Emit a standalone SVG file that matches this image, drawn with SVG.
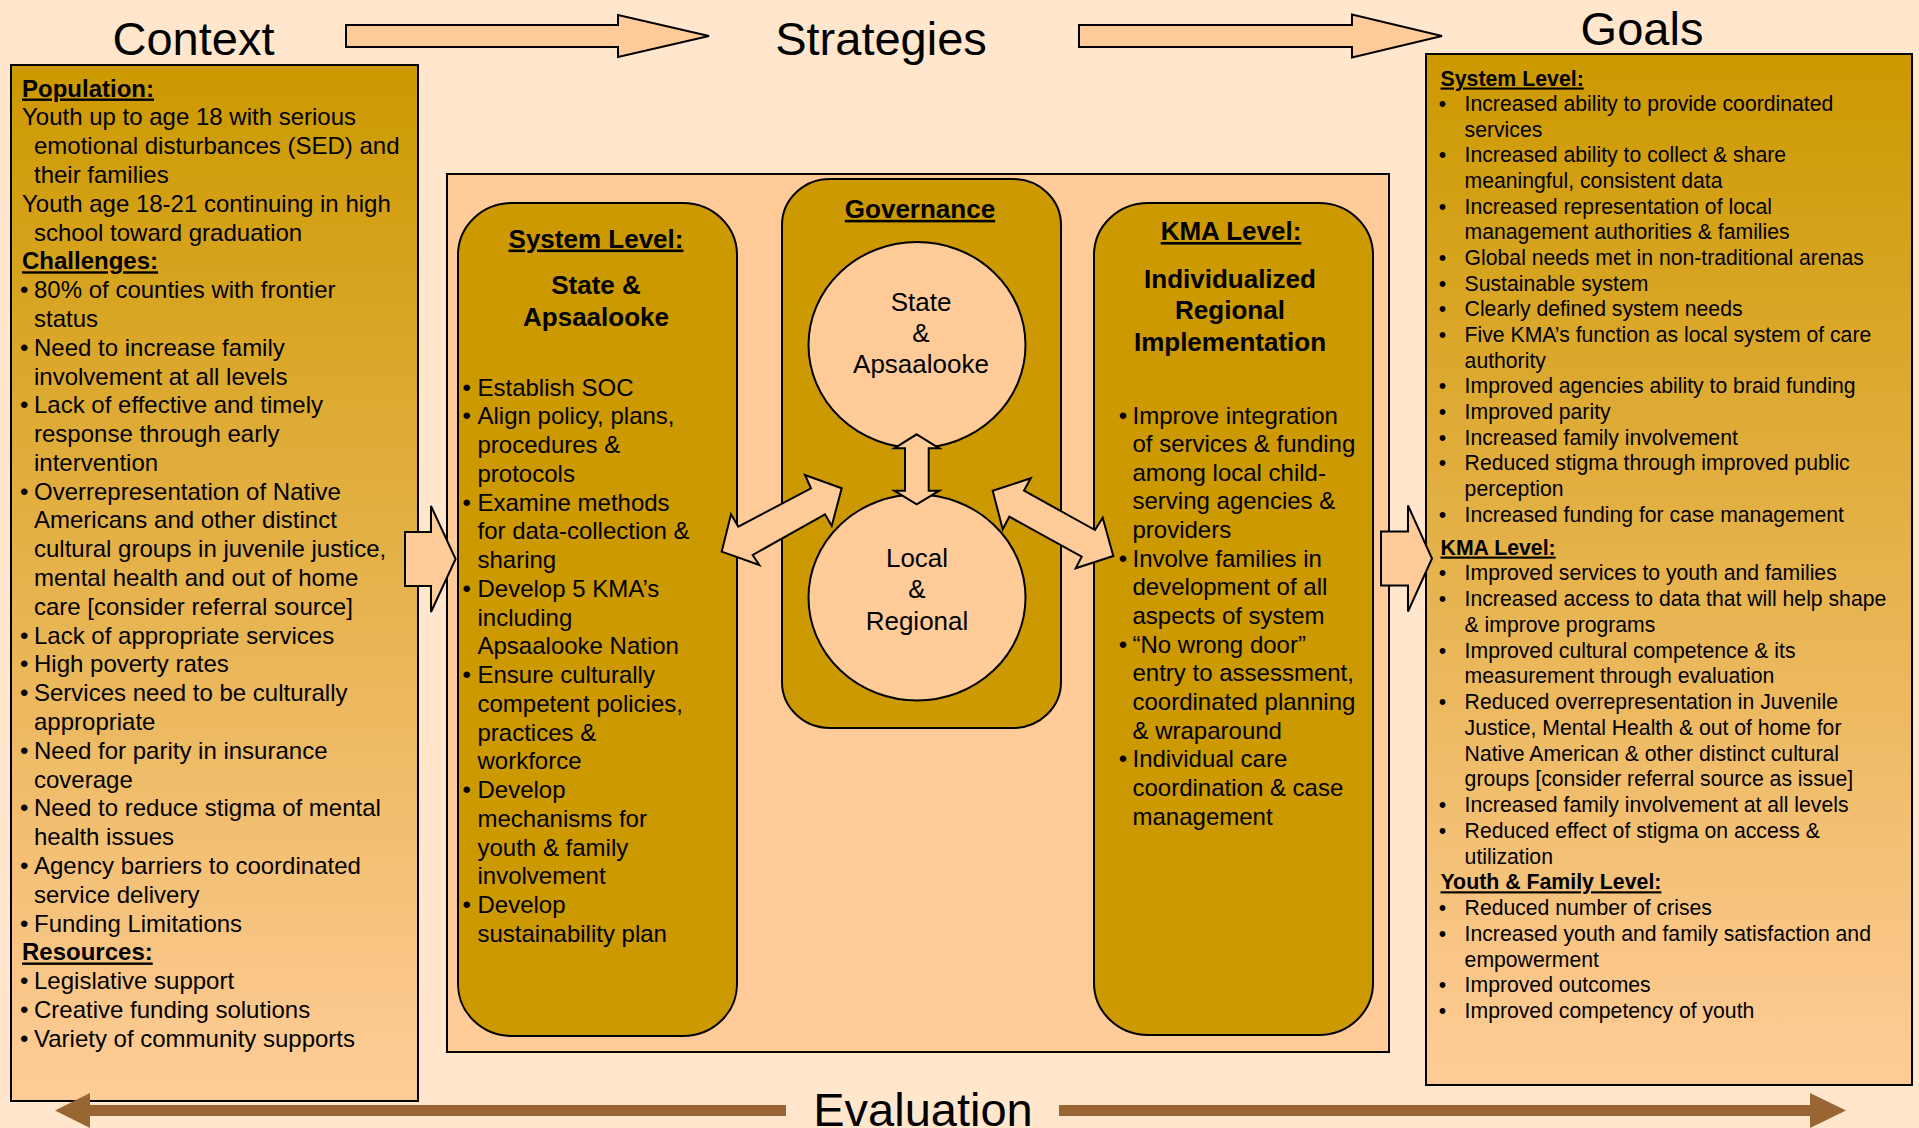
<svg xmlns="http://www.w3.org/2000/svg" width="1919" height="1128" viewBox="0 0 1919 1128">
<defs>
<linearGradient id="goldfade" x1="0" y1="0" x2="0" y2="1">
<stop offset="0" stop-color="#CC9900"/>
<stop offset="1" stop-color="#FFCC99"/>
</linearGradient>
<style>
.t{font-family:"Liberation Sans",Arial,sans-serif;fill:#000}
.title{font-size:47px;text-anchor:middle}
.b{font-size:24px}
.bh{font-size:24px;font-weight:bold;text-decoration:underline}
.h{font-size:26px;font-weight:bold;text-anchor:middle}
.hu{text-decoration:underline}
.c{font-size:26px;text-anchor:middle}
.g{font-size:21.2px}
.gh{font-size:21.3px;font-weight:bold;text-decoration:underline}
.box{stroke:#000;stroke-width:2}
.rbox{fill:#CC9900;stroke:#000;stroke-width:2}
.arrow{fill:#FFCC99;stroke:#000;stroke-width:2;stroke-linejoin:miter}
.eval{fill:#996633;stroke:none}
</style>
</defs>
<rect x="0" y="0" width="1919" height="1128" fill="#FFE6CC"/>

<g id="titles">
<text class="t title" x="193.5" y="55">Context</text>
<text class="t title" x="881" y="55">Strategies</text>
<text class="t title" x="1642" y="44.6">Goals</text>
<text class="t title" x="923" y="1125.5">Evaluation</text>
</g>

<g id="context">
<rect class="box" x="11" y="65" width="407" height="1036" fill="url(#goldfade)"/>
<text class="t b" x="22" y="96.5">
<tspan class="bh" x="22">Population:</tspan>
<tspan x="22" dy="28.8">Youth up to age 18 with serious</tspan>
<tspan x="34" dy="28.8">emotional disturbances (SED) and</tspan>
<tspan x="34" dy="28.8">their families</tspan>
<tspan x="22" dy="28.8">Youth age 18-21 continuing in high</tspan>
<tspan x="34" dy="28.8">school toward graduation</tspan>
<tspan class="bh" x="22" dy="28.8">Challenges:</tspan>
<tspan x="20" dy="28.8">•</tspan><tspan x="34">80% of counties with frontier</tspan>
<tspan x="34" dy="28.8">status</tspan>
<tspan x="20" dy="28.8">•</tspan><tspan x="34">Need to increase family</tspan>
<tspan x="34" dy="28.8">involvement at all levels</tspan>
<tspan x="20" dy="28.8">•</tspan><tspan x="34">Lack of effective and timely</tspan>
<tspan x="34" dy="28.8">response through early</tspan>
<tspan x="34" dy="28.8">intervention</tspan>
<tspan x="20" dy="28.8">•</tspan><tspan x="34">Overrepresentation of Native</tspan>
<tspan x="34" dy="28.8">Americans and other distinct</tspan>
<tspan x="34" dy="28.8">cultural groups in juvenile justice,</tspan>
<tspan x="34" dy="28.8">mental health and out of home</tspan>
<tspan x="34" dy="28.8">care [consider referral source]</tspan>
<tspan x="20" dy="28.8">•</tspan><tspan x="34">Lack of appropriate services</tspan>
<tspan x="20" dy="28.8">•</tspan><tspan x="34">High poverty rates</tspan>
<tspan x="20" dy="28.8">•</tspan><tspan x="34">Services need to be culturally</tspan>
<tspan x="34" dy="28.8">appropriate</tspan>
<tspan x="20" dy="28.8">•</tspan><tspan x="34">Need for parity in insurance</tspan>
<tspan x="34" dy="28.8">coverage</tspan>
<tspan x="20" dy="28.8">•</tspan><tspan x="34">Need to reduce stigma of mental</tspan>
<tspan x="34" dy="28.8">health issues</tspan>
<tspan x="20" dy="28.8">•</tspan><tspan x="34">Agency barriers to coordinated</tspan>
<tspan x="34" dy="28.8">service delivery</tspan>
<tspan x="20" dy="28.8">•</tspan><tspan x="34">Funding Limitations</tspan>
<tspan class="bh" x="22" dy="28.8">Resources:</tspan>
<tspan x="20" dy="28.8">•</tspan><tspan x="34">Legislative support</tspan>
<tspan x="20" dy="28.8">•</tspan><tspan x="34">Creative funding solutions</tspan>
<tspan x="20" dy="28.8">•</tspan><tspan x="34">Variety of community supports</tspan>
</text>
</g>

<g id="strategies">
<rect class="box" x="447" y="174" width="942" height="878" fill="#FFCC99"/>
</g>

<g id="system-level">
<rect class="rbox" x="458" y="203" width="279" height="833" rx="54" ry="52"/>
<text class="t h hu" x="596" y="247.5">System Level:</text>
<text class="t h" x="596" y="294">State &amp;</text>
<text class="t h" x="596" y="326">Apsaalooke</text>
<text class="t b" x="477.5" y="395.5">
<tspan x="462.4">•</tspan><tspan x="477.5">Establish SOC</tspan>
<tspan x="462.4" dy="28.75">•</tspan><tspan x="477.5">Align policy, plans,</tspan>
<tspan x="477.5" dy="28.75">procedures &amp;</tspan>
<tspan x="477.5" dy="28.75">protocols</tspan>
<tspan x="462.4" dy="28.75">•</tspan><tspan x="477.5">Examine methods</tspan>
<tspan x="477.5" dy="28.75">for data-collection &amp;</tspan>
<tspan x="477.5" dy="28.75">sharing</tspan>
<tspan x="462.4" dy="28.75">•</tspan><tspan x="477.5">Develop 5 KMA’s</tspan>
<tspan x="477.5" dy="28.75">including</tspan>
<tspan x="477.5" dy="28.75">Apsaalooke Nation</tspan>
<tspan x="462.4" dy="28.75">•</tspan><tspan x="477.5">Ensure culturally</tspan>
<tspan x="477.5" dy="28.75">competent policies,</tspan>
<tspan x="477.5" dy="28.75">practices &amp;</tspan>
<tspan x="477.5" dy="28.75">workforce</tspan>
<tspan x="462.4" dy="28.75">•</tspan><tspan x="477.5">Develop</tspan>
<tspan x="477.5" dy="28.75">mechanisms for</tspan>
<tspan x="477.5" dy="28.75">youth &amp; family</tspan>
<tspan x="477.5" dy="28.75">involvement</tspan>
<tspan x="462.4" dy="28.75">•</tspan><tspan x="477.5">Develop</tspan>
<tspan x="477.5" dy="28.75">sustainability plan</tspan>
</text>
</g>

<g id="governance">
<rect class="rbox" x="782" y="179" width="279" height="549" rx="48" ry="46"/>
<text class="t h hu" x="920" y="217.8">Governance</text>
</g>

<g id="state-circle">
<ellipse cx="917" cy="345" rx="108.5" ry="103" fill="#FFCC99" stroke="#000" stroke-width="2"/>
<text class="t c" x="921" y="310.5">State</text>
<text class="t c" x="921" y="342">&amp;</text>
<text class="t c" x="921" y="373.2">Apsaalooke</text>
</g>

<g id="local-circle">
<ellipse cx="917" cy="597.5" rx="108.5" ry="103" fill="#FFCC99" stroke="#000" stroke-width="2"/>
<text class="t c" x="917" y="566.5">Local</text>
<text class="t c" x="917" y="598">&amp;</text>
<text class="t c" x="917" y="630">Regional</text>
</g>

<g id="kma-level">
<rect class="rbox" x="1094" y="203" width="279" height="832" rx="54" ry="52"/>
<text class="t h hu" x="1231" y="240">KMA Level:</text>
<text class="t h" x="1230" y="287.5">Individualized</text>
<text class="t h" x="1230" y="319">Regional</text>
<text class="t h" x="1230" y="350.8">Implementation</text>
<text class="t b" x="1132.5" y="423.5">
<tspan x="1118.7">•</tspan><tspan x="1132.5">Improve integration</tspan>
<tspan x="1132.5" dy="28.65">of services &amp; funding</tspan>
<tspan x="1132.5" dy="28.65">among local child-</tspan>
<tspan x="1132.5" dy="28.65">serving agencies &amp;</tspan>
<tspan x="1132.5" dy="28.65">providers</tspan>
<tspan x="1118.7" dy="28.65">•</tspan><tspan x="1132.5">Involve families in</tspan>
<tspan x="1132.5" dy="28.65">development of all</tspan>
<tspan x="1132.5" dy="28.65">aspects of system</tspan>
<tspan x="1118.7" dy="28.65">•</tspan><tspan x="1132.5">“No wrong door”</tspan>
<tspan x="1132.5" dy="28.65">entry to assessment,</tspan>
<tspan x="1132.5" dy="28.65">coordinated planning</tspan>
<tspan x="1132.5" dy="28.65">&amp; wraparound</tspan>
<tspan x="1118.7" dy="28.65">•</tspan><tspan x="1132.5">Individual care</tspan>
<tspan x="1132.5" dy="28.65">coordination &amp; case</tspan>
<tspan x="1132.5" dy="28.65">management</tspan>
</text>
</g>

<g id="goals">
<rect class="box" x="1426" y="54" width="486" height="1031" fill="url(#goldfade)"/>
<text class="t g" x="1440.5" y="85.5">
<tspan class="gh" x="1440.5">System Level:</tspan>
<tspan x="1438.7" dy="25.65">•</tspan><tspan x="1464.6">Increased ability to provide coordinated</tspan>
<tspan x="1464.6" dy="25.65">services</tspan>
<tspan x="1438.7" dy="25.65">•</tspan><tspan x="1464.6">Increased ability to collect &amp; share</tspan>
<tspan x="1464.6" dy="25.65">meaningful, consistent data</tspan>
<tspan x="1438.7" dy="25.65">•</tspan><tspan x="1464.6">Increased representation of local</tspan>
<tspan x="1464.6" dy="25.65">management authorities &amp; families</tspan>
<tspan x="1438.7" dy="25.65">•</tspan><tspan x="1464.6">Global needs met in non-traditional arenas</tspan>
<tspan x="1438.7" dy="25.65">•</tspan><tspan x="1464.6">Sustainable system</tspan>
<tspan x="1438.7" dy="25.65">•</tspan><tspan x="1464.6">Clearly defined system needs</tspan>
<tspan x="1438.7" dy="25.65">•</tspan><tspan x="1464.6">Five KMA’s function as local system of care</tspan>
<tspan x="1464.6" dy="25.65">authority</tspan>
<tspan x="1438.7" dy="25.65">•</tspan><tspan x="1464.6">Improved agencies ability to braid funding</tspan>
<tspan x="1438.7" dy="25.65">•</tspan><tspan x="1464.6">Improved parity</tspan>
<tspan x="1438.7" dy="25.65">•</tspan><tspan x="1464.6">Increased family involvement</tspan>
<tspan x="1438.7" dy="25.65">•</tspan><tspan x="1464.6">Reduced stigma through improved public</tspan>
<tspan x="1464.6" dy="25.65">perception</tspan>
<tspan x="1438.7" dy="25.65">•</tspan><tspan x="1464.6">Increased funding for case management</tspan>
<tspan class="gh" x="1440.5" dy="33">KMA Level:</tspan>
<tspan x="1438.7" dy="25.75">•</tspan><tspan x="1464.6">Improved services to youth and families</tspan>
<tspan x="1438.7" dy="25.75">•</tspan><tspan x="1464.6">Increased access to data that will help shape</tspan>
<tspan x="1464.6" dy="25.75">&amp; improve programs</tspan>
<tspan x="1438.7" dy="25.75">•</tspan><tspan x="1464.6">Improved cultural competence &amp; its</tspan>
<tspan x="1464.6" dy="25.75">measurement through evaluation</tspan>
<tspan x="1438.7" dy="25.75">•</tspan><tspan x="1464.6">Reduced overrepresentation in Juvenile</tspan>
<tspan x="1464.6" dy="25.75">Justice, Mental Health &amp; out of home for</tspan>
<tspan x="1464.6" dy="25.75">Native American &amp; other distinct cultural</tspan>
<tspan x="1464.6" dy="25.75">groups [consider referral source as issue]</tspan>
<tspan x="1438.7" dy="25.75">•</tspan><tspan x="1464.6">Increased family involvement at all levels</tspan>
<tspan x="1438.7" dy="25.75">•</tspan><tspan x="1464.6">Reduced effect of stigma on access &amp;</tspan>
<tspan x="1464.6" dy="25.75">utilization</tspan>
<tspan class="gh" x="1440.5" dy="25.75">Youth &amp; Family Level:</tspan>
<tspan x="1438.7" dy="25.75">•</tspan><tspan x="1464.6">Reduced number of crises</tspan>
<tspan x="1438.7" dy="25.75">•</tspan><tspan x="1464.6">Increased youth and family satisfaction and</tspan>
<tspan x="1464.6" dy="25.75">empowerment</tspan>
<tspan x="1438.7" dy="25.75">•</tspan><tspan x="1464.6">Improved outcomes</tspan>
<tspan x="1438.7" dy="25.75">•</tspan><tspan x="1464.6">Improved competency of youth</tspan>
</text>
</g>

<g id="connectors">
<polygon class="arrow" points="346,25 618,25 618,15 709,36 618,57 618,47 346,47"/>
<polygon class="arrow" points="1079,25 1352,25 1352,14.5 1442,36 1352,57.5 1352,47 1079,47"/>
<polygon class="arrow" points="405,532 431,532 431,506 455.6,559 431,612 431,586 405,586"/>
<polygon class="arrow" points="1381,531.5 1408,531.5 1408,505.5 1432,558.5 1408,611.5 1408,585.5 1381,585.5"/>
<polygon class="arrow" points="916.7,434.3 939.3,448.3 928.7,448.3 928.7,490.7 939.3,490.7 916.7,504.3 894.3,490.7 905,490.7 905,448.3 894.3,448.3"/>
<polygon class="arrow" points="841.7,488.3 805,475 811,488.3 738.3,526.7 731,514.3 721.7,551.7 759.3,565 752.7,555 825,514.3 831.7,526"/>
<polygon class="arrow" points="992.7,490.7 1030.7,478.3 1024,490.7 1095,530 1102.7,517.7 1113.3,556 1075.7,568.3 1081.7,556.7 1009.3,516.7 1002.7,529.3"/>
<polygon class="eval" points="55,1110.5 90,1093 90,1105 786,1105 786,1116 90,1116 90,1128"/>
<polygon class="eval" points="1059,1105 1810,1105 1810,1093 1846,1110.5 1810,1128 1810,1116 1059,1116"/>
</g>
</svg>
